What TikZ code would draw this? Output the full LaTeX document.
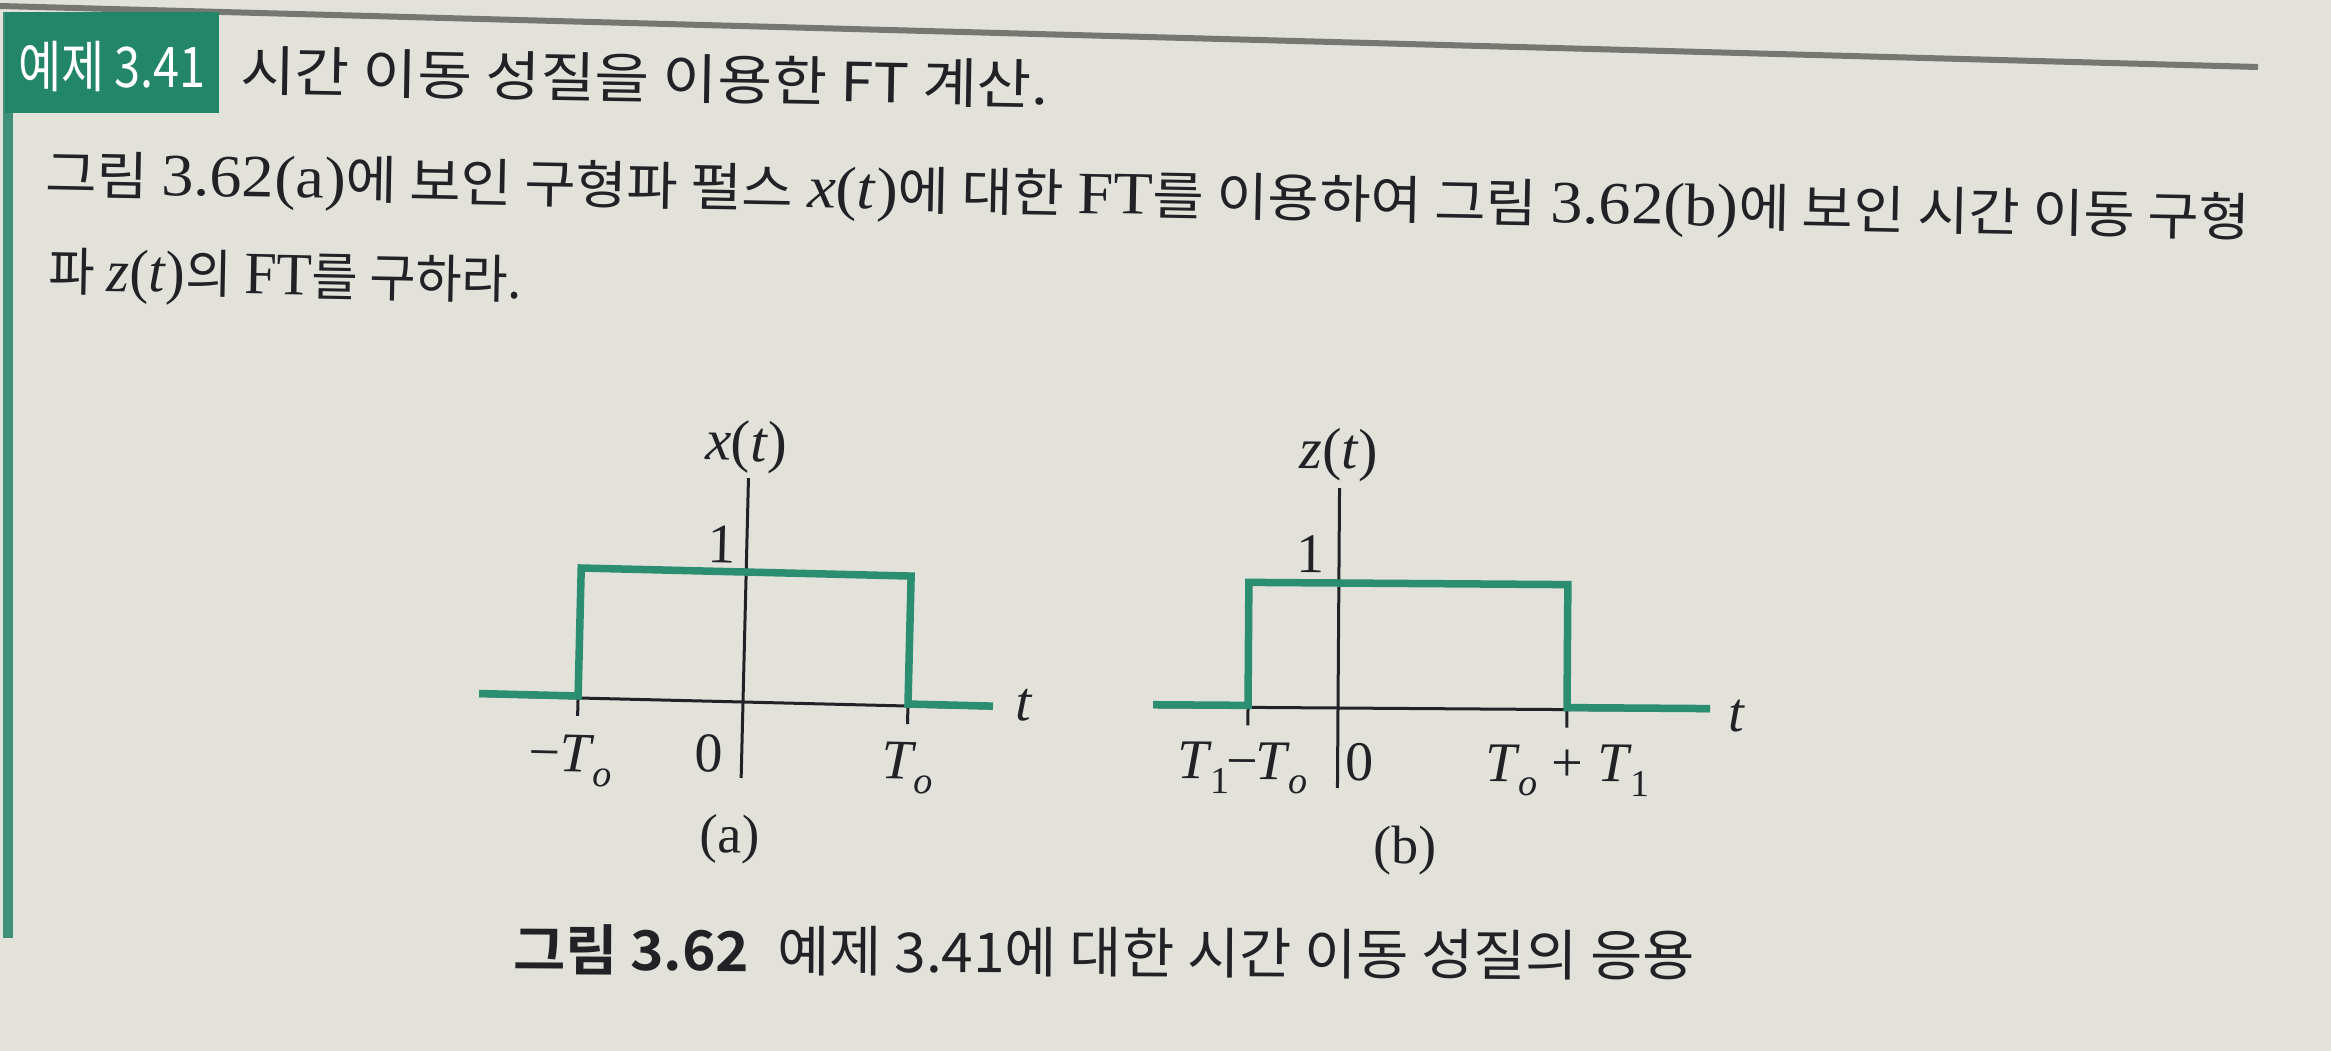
\documentclass[tikz,border=0pt]{standalone}
\usepackage{fontspec}
\usepackage{graphicx}
\setmainfont{Liberation Serif}
\newfontfamily\kr{Noto Sans CJK KR}[BoldFont={Noto Sans CJK KR Bold}]
\definecolor{paper}{RGB}{226,226,219}
\definecolor{ink}{RGB}{34,34,38}
\definecolor{tabgreen}{RGB}{36,134,104}
\definecolor{bargreen}{RGB}{62,145,120}
\definecolor{pulsegreen}{RGB}{44,142,112}
\definecolor{rulegray}{RGB}{118,118,115}
\newcommand\fsz[1]{\fontsize{#1pt}{#1pt}\selectfont}
\newcommand\Tsb[1]{\textit{T}\kern-0.02em\raisebox{-0.25em}{\fsz{38}#1}}
\newcommand\srf[1]{{\fsz{60}#1}}
\tikzset{
  txt/.style={inner sep=0pt, outer sep=0pt, text=ink},
  lbl/.style={inner sep=0pt, outer sep=0pt, text=ink, font=\fsz{56}, transform shape},
  pulseline/.style={draw=pulsegreen, line width=7.5pt, line join=miter},
  axisline/.style={draw=ink, line width=3pt},
}
\begin{document}
\begin{tikzpicture}[x=1pt,y=-1pt]
\useasboundingbox (0,0) rectangle (2331,1051);
\fill[paper] (0,0) rectangle (2331,1051);
% top rule
\coordinate (rl) at (0,6);
\coordinate (rr) at (2258,67);
\draw[rulegray, line width=6pt] (rl) -- (rr);
% left bar and tab
\fill[bargreen] (3,12) rectangle (13,938);
\fill[tabgreen] (5,12) rectangle (219,113);
\node[txt, text=white, anchor=base] (tabtxt) at (112,88)
  {\resizebox{188pt}{\height}{\kr\fsz{56}예제 3.41}};
% title
\node[txt, anchor=base west, rotate=-1.0] (title) at (240,91)
  {\resizebox{808pt}{\height}{\kr\fsz{54}시간 이동 성질을 이용한 FT 계산.}};
% paragraph
\node[txt, anchor=base west, rotate=-1.12] (line1) at (45,193)
  {\resizebox{2205pt}{\height}{\fsz{52}{\kr 그림} \srf{3.62(a)}{\kr 에 보인 구형파 펄스} \srf{\textit{x}(\textit{t})}{\kr 에 대한} \srf{FT}{\kr 를 이용하여 그림} \srf{3.62(b)}{\kr 에 보인 시간 이동 구형}}};
\node[txt, anchor=base west, rotate=-1.1] (line2) at (48,290)
  {\resizebox{474pt}{\height}{\fsz{52}{\kr 파} \srf{\textit{z}(\textit{t})}{\kr 의} \srf{FT}{\kr 를 구하라.}}};
% figure (a)
\begin{scope}[shift={(743,702)}, rotate=-1.4]
  \coordinate (aL) at (-264,0);
  \coordinate (aR) at (250,0);
  \draw[axisline] (aL) -- (aR);
  \draw[axisline] (0,-224) -- (0,76);
  \draw[axisline] (-165,0) -- (-165,18);
  \draw[axisline] (165,0) -- (165,18);
  \draw[pulseline] (-264,-2) -- (-165,-2) -- (-165,-130) -- (165,-130) -- (165,-2) -- (250,-2);
  \node[lbl, font=\fsz{58}] (xa) at (-3,-255) {\textit{x}(\textit{t})};
  \node[lbl] (onea) at (-25,-157) {1};
  \node[lbl, anchor=base] (mToa) at (-171,74) {−\Tsb{\textit{o}}};
  \node[lbl, anchor=base] (zeroa) at (-33,71) {0};
  \node[lbl, anchor=base] (Toa) at (166,73) {\Tsb{\textit{o}}};
  \node[lbl] (ta) at (281,-4) {\textit{t}};
  \node[lbl, font=\fsz{54}] (capa) at (-10,138) {(a)};
\end{scope}
% figure (b)
\begin{scope}[shift={(1338,708)}, rotate=-0.4]
  \coordinate (bL) at (-185,0);
  \coordinate (bR) at (372,0);
  \draw[axisline] (bL) -- (bR);
  \draw[axisline] (0,-220) -- (0,80);
  \draw[axisline] (-90,0) -- (-90,18);
  \draw[axisline] (229,0) -- (229,18);
  \draw[pulseline] (-185,-2) -- (-90,-2) -- (-90,-125) -- (229,-125) -- (229,-2) -- (372,-2);
  \node[lbl, font=\fsz{58}] (zb) at (-1,-253) {\textit{z}(\textit{t})};
  \node[lbl] (oneb) at (-28,-154) {1};
  \node[lbl, anchor=base] (T1mTo) at (-95,72) {\Tsb{1}\kern-0.05em−\kern-0.05em\Tsb{\textit{o}}};
  \node[lbl, anchor=base] (zerob) at (22,72) {0};
  \node[lbl, anchor=base] (ToT1) at (230,72) {\Tsb{\textit{o}} + \Tsb{1}};
  \node[lbl] (tb) at (399,5) {\textit{t}};
  \node[lbl, font=\fsz{54}] (capb) at (68,142) {(b)};
\end{scope}
% caption
\node[txt, anchor=base west, rotate=-0.3] (caption) at (513,970)
  {\resizebox{1182pt}{\height}{\kr\fsz{55}{\bfseries 그림 3.62}\hspace{0.5em}예제 3.41에 대한 시간 이동 성질의 응용}};
\end{tikzpicture}
\end{document}
